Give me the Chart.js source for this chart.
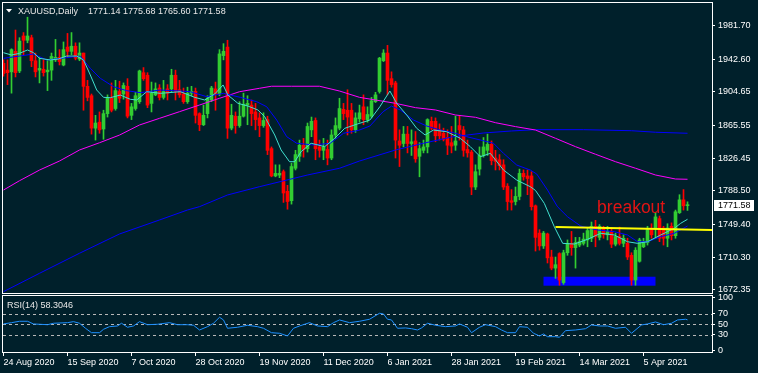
<!DOCTYPE html>
<html>
<head>
<meta charset="utf-8">
<script src="https://cdn.jsdelivr.net/npm/chart.js@4.4.0/dist/chart.umd.min.js"></script>
<style>
  html, body { margin: 0; padding: 0; background: #00202b; }
  #wrap { position: relative; width: 758px; height: 373px; background: #00202b; overflow: hidden; }
  canvas { position: absolute; left: 0; }
  #price { top: 0; }
  #rsi { top: 294px; }
</style>
</head>
<body>
<div id="wrap">
  <canvas id="price" width="758" height="294"></canvas>
  <canvas id="rsi" width="758" height="79"></canvas>
</div>
<script>
// XAUUSD daily bars, one per trading day starting 24 Aug 2020
const open = [1938,1930,1928,1952,1929,1970,1965,1968,1941,1930,
  1931,1928,1930,1942,1945,1936,1957,1952,1958,1943,
  1950,1911,1900,1862,1869,1861,1879,1897,1885,1905,
  1902,1911,1877,1885,1893,1927,1924,1891,1901,1909,
  1898,1908,1908,1924,1907,1902,1893,1903,1905,1879,
  1866,1879,1895,1908,1902,1947,1957,1862,1876,1865,
  1876,1889,1889,1881,1874,1865,1872,1838,1806,1807,
  1811,1788,1777,1815,1829,1842,1838,1860,1871,1840,
  1836,1837,1827,1854,1862,1884,1883,1883,1860,1873,
  1887,1872,1876,1893,1905,1941,1950,1920,1915,1847,
  1844,1855,1844,1847,1829,1836,1840,1870,1870,1860,
  1856,1851,1845,1842,1865,1860,1837,1834,1793,1814,
  1830,1836,1843,1827,1825,1819,1794,1777,1776,1782,
  1809,1806,1806,1771,1739,1724,1738,1711,1698,1715,
  1681,1716,1727,1722,1725,1727,1731,1733,1747,1734,
  1745,1737,1741,1726,1735,1727,1727,1713,1684,1706,
  1723,1728,1743,1745,1756,1745,1733,1747,1736,1763,
  1778,1771.14];
const high = [1942,1942,1955,1977,1968,1974,1992,1971,1950,1945,
  1942,1942,1950,1966,1954,1963,1973,1974,1962,1962,
  1950,1918,1902,1877,1881,1883,1901,1915,1918,1917,
  1915,1920,1891,1904,1930,1933,1927,1916,1915,1913,
  1918,1913,1931,1930,1918,1909,1910,1911,1909,1880,
  1889,1900,1911,1916,1954,1961,1965,1890,1881,1893,
  1903,1900,1895,1891,1880,1880,1876,1840,1819,1819,
  1813,1795,1821,1836,1848,1850,1868,1875,1874,1848,
  1850,1848,1860,1874,1897,1891,1907,1891,1880,1889,
  1901,1887,1898,1904,1945,1954,1959,1928,1917,1860,
  1864,1864,1860,1858,1845,1848,1873,1875,1874,1867,
  1862,1860,1864,1876,1877,1864,1848,1836,1819,1840,
  1851,1855,1847,1836,1831,1825,1797,1790,1793,1814,
  1813,1813,1811,1772,1743,1741,1739,1719,1711,1716,
  1719,1731,1741,1734,1734,1739,1745,1752,1754,1749,
  1747,1747,1745,1739,1746,1737,1733,1716,1722,1733,
  1733,1747,1750,1763,1759,1747,1750,1751,1766,1784,
  1790,1775.68];
const low = [1923,1913,1903,1922,1927,1948,1962,1934,1922,1915,
  1923,1906,1918,1940,1936,1935,1945,1948,1942,1941,
  1883,1894,1855,1848,1856,1849,1875,1881,1883,1892,
  1896,1874,1872,1883,1891,1918,1886,1881,1900,1895,
  1896,1895,1904,1895,1898,1891,1891,1900,1868,1859,
  1865,1874,1893,1883,1900,1942,1850,1860,1856,1863,
  1875,1866,1865,1860,1852,1863,1831,1805,1805,1804,
  1775,1767,1773,1813,1823,1828,1834,1852,1825,1828,
  1825,1819,1825,1850,1860,1872,1854,1856,1857,1869,
  1866,1869,1874,1892,1903,1940,1901,1910,1827,1817,
  1840,1833,1830,1822,1805,1833,1833,1860,1846,1848,
  1847,1831,1833,1836,1848,1829,1828,1784,1790,1807,
  1828,1830,1819,1813,1813,1790,1766,1766,1772,1778,
  1801,1784,1766,1718,1719,1721,1704,1696,1686,1678,
  1679,1713,1713,1698,1723,1725,1723,1729,1723,1731,
  1733,1731,1722,1724,1725,1723,1708,1678,1678,1705,
  1722,1725,1733,1733,1729,1725,1723,1731,1733,1762,
  1766,1765.60];
const close = [1926,1927,1954,1927,1964,1965,1970,1941,1928,1932,
  1927,1930,1946,1945,1940,1954,1952,1958,1944,1950,
  1911,1898,1862,1868,1860,1879,1897,1883,1906,1897,
  1912,1876,1887,1900,1929,1920,1889,1903,1908,1898,
  1905,1903,1924,1905,1901,1893,1903,1905,1877,1866,
  1877,1897,1909,1902,1949,1952,1862,1877,1865,1876,
  1890,1891,1879,1872,1865,1871,1836,1806,1809,1809,
  1786,1776,1817,1831,1842,1837,1864,1870,1838,1836,
  1840,1827,1854,1865,1885,1879,1875,1860,1874,1880,
  1872,1878,1894,1901,1944,1950,1918,1913,1848,1842,
  1855,1844,1846,1826,1838,1840,1872,1862,1853,1853,
  1849,1842,1841,1847,1860,1836,1833,1793,1811,1830,
  1840,1843,1824,1823,1818,1793,1776,1775,1782,1809,
  1805,1803,1770,1734,1724,1739,1710,1698,1702,1684,
  1716,1727,1722,1728,1729,1732,1742,1747,1735,1747,
  1737,1741,1726,1735,1727,1733,1711,1684,1719,1731,
  1729,1743,1737,1758,1733,1733,1745,1736,1764,1778,
  1771,1771.58];

// moving averages, read at the listed bar positions
const maFastBars = [0,2,4,6,7.5,9,11.7,13.7,15.8,18.3,20,21.7,23.3,25,26.7,29.2,31.7,33.3,35.8,39.2,44.2,47.8,50.3,52.8,54.9,56.1,58.6,61.1,63.6,65.3,67.8,69.4,71.5,72.8,74.4,76.9,80.3,82.8,85.3,88.5,91.6,94.1,96.6,98.3,100.8,103.3,105.4,107.5,110.8,114.2,116.7,119.2,121.7,125,128.3,131.7,133,135.2,137.7,139.8,142.7,146,149.3,152.7,156,158.5,161,164.3,167.7,169.3,171];
const maFast = [1950.4,1947.7,1949.7,1953.6,1950.4,1943.8,1941.9,1943,1946.5,1946.5,1941.9,1924.3,1906.7,1898.1,1897.7,1900.8,1895.8,1895,1904.7,1902.8,1904.7,1898.1,1895,1902,1912.6,1900.8,1891.1,1887.9,1883.3,1875.4,1854,1836.4,1822.7,1822.7,1834.4,1844.3,1840.3,1850.1,1861.8,1866.9,1871.5,1887.2,1905.5,1891.1,1877.4,1861.8,1854,1859.8,1857.8,1850.1,1840.3,1828.5,1832.5,1812.9,1801.2,1793.4,1789,1773.9,1746.5,1727,1726.2,1731.7,1738.8,1736.8,1728.9,1727,1728.9,1736.8,1744.6,1750.5,1755.2];
const maMidBars = [0,4,7.5,10.8,15.8,19.2,21.7,24.2,27.5,30.8,34.2,39.2,44.2,46.7,50.8,55,59.2,63.3,65.8,68.3,70.8,73.3,77.5,81.7,85,88.7,91.6,94.9,97,99.2,102.5,105.8,109.2,112.5,115.8,119.2,122.5,125,128.3,131.7,133.3,136,138.5,141,144.3,148.5,152.7,156,158.5,161,164.3,167.7,171];
const maMid = [1943.8,1946.5,1948.9,1941.9,1944.6,1946.5,1932.1,1920.4,1910.6,1905.9,1903.6,1906.7,1905.5,1904.7,1898.9,1902.8,1898.1,1893,1887.1,1871.5,1852,1844.3,1842.3,1844.3,1856,1859.3,1864.5,1881.3,1887.9,1883.3,1871.5,1864.5,1859.8,1856.7,1852,1848.1,1844.3,1832.5,1818.8,1812.9,1808.3,1789.5,1769.9,1758.2,1747.3,1742.6,1740.7,1736.8,1728.9,1728.9,1734.8,1738.8,1747.3];
const maSlowBars = [0,4,9,14,19,24,29,34,39,44,49,54,59,64,67,72,79,84,89,93,98,103,108,113,118,123,128,133,138,143,148,153,158,163,168,171];
const maSlow = [1789.5,1800.4,1812.9,1823.5,1836.4,1844.9,1853.9,1865.7,1873.5,1881.3,1889.1,1897,1904.7,1908.7,1911.1,1911.1,1911.1,1905.5,1898.1,1895,1891.1,1886,1883.3,1877.4,1874.7,1868.4,1863.8,1859.8,1850.1,1840.3,1831.4,1822.7,1815,1807.1,1802.4,1802.1];
const maLongBars = [0,9,19,29,39,46,49,56,64,76,84,89,98,105,112,120,127,133,145,157,163,171];
const maLong = [1670.4,1691.9,1715.4,1738,1754.4,1766.1,1770,1783.7,1793.4,1807.1,1815,1823.5,1836.4,1844.3,1851.6,1856.3,1858.7,1860.2,1860.2,1859,1857.2,1856];

// RSI(14)
const rsiBars = [0,2,4,6,7.5,11,12.5,16,17.5,19,20.5,22,24,25,26.5,28.5,29.5,31,32.5,34,36,38.5,41.5,43.5,46,47.5,49,51,52.5,54,55,56,58.5,61,63.5,65,67,69,71,72.5,74,76.5,78.5,81,82.5,84,86.5,89,91.5,94,95,96,97,98.5,100.5,102,103.5,104.5,106,108,110.5,113,114,116,117,119,120.5,123,124.5,126,128,129,131,132.5,134,135,136,138,139,140.5,143,145.5,147,149,151,153,155.5,157,159.5,161,163,165,167,168.5,170.5,171];
const rsi = [50.6,53,55.6,55.6,50.6,49.2,51.9,53,54.9,51.9,42.5,34.2,34.2,40.6,45.5,46.8,51.9,44.4,46.8,54.9,49.2,50,53,49.2,49.2,48.1,39.3,45.5,51.9,63.1,58.1,42.5,44.4,48.1,45.5,42.5,34.2,33.1,28.1,42.5,46.8,53,46.8,45.5,53,58.1,53,55.6,59.4,70.6,69.3,59.4,58.1,42.5,43.1,41.7,39.3,43.1,51.9,48.1,45.5,46.8,50.6,44.4,34.2,44.4,49.2,45.5,39.3,34.2,34.2,45.5,44.4,33.1,28.1,31.8,26.7,26.7,25.6,38,39.3,41.7,48.7,46.8,46.8,42.5,44.4,33.1,48.7,50.6,54.3,49.2,51.9,58.1,59.4,58.3];
const rsiLevels = [70, 50, 30];
const rsiTicks = [100, 70, 50, 30, 0];

const priceTicks = [1981.70, 1942.60, 1904.65, 1865.55, 1826.45, 1788.50, 1749.40, 1710.30, 1672.35];
const dateLabels = ['24 Aug 2020','15 Sep 2020','7 Oct 2020','28 Oct 2020','19 Nov 2020','11 Dec 2020','6 Jan 2021','28 Jan 2021','19 Feb 2021','14 Mar 2021','5 Apr 2021'];
const BARS_PER_LABEL = 16;

// chart objects drawn by hand on the chart
const supportBox = { from: 135, to: 163, top: 1687.9, bottom: 1677.4 };
const trendLine = { bar1: 138, price1: 1746.2, bar2: 171, price2: 1743.1 };
const breakoutNote = { bar: 148.4, price: 1762.6, text: 'breakout' };
const symbolTitle = 'XAUUSD,Daily';
const ohlcText = '1771.14 1775.68 1765.60 1771.58';
const rsiTitle = 'RSI(14) 58.3046';

const BG = '#00202b';
const UP = '#32cd32';
const DOWN = '#ff0000';
const X_MIN = -0.125, X_MAX = 177.125;
const FONT = "'Liberation Sans', Arial, sans-serif";

Chart.defaults.font.family = FONT;
Chart.defaults.font.size = 9;
Chart.defaults.color = '#ffffff';
Chart.defaults.animation = false;

const idx = close.map((_, i) => i);
const colors = idx.map(i => close[i] >= open[i] ? UP : DOWN);
const pts = (xs, ys) => xs.map((x, i) => ({ x, y: ys[i] }));

// keep the axes from stealing room for half-labels at the ends
const noPad = s => { s.paddingTop = 0; s.paddingBottom = 0; s.paddingLeft = 0; s.paddingRight = 0; };

function maLine(xs, ys, color) {
  return { type: 'line', data: pts(xs, ys), borderColor: color, borderWidth: 1,
    pointRadius: 0, fill: false, tension: 0, order: 1 };
}

const frame = {
  id: 'frame',
  beforeDraw(c) {
    const ctx = c.ctx;
    ctx.save();
    ctx.fillStyle = BG;
    ctx.fillRect(0, 0, c.width, c.height);
    ctx.restore();
  },
  afterDraw(c) {
    const a = c.chartArea, ctx = c.ctx;
    ctx.save();
    ctx.strokeStyle = '#ffffff';
    ctx.lineWidth = 1;
    ctx.strokeRect(a.left - 0.5, a.top - 0.5, a.right - a.left + 1, a.bottom - a.top + 1);
    ctx.restore();
  }
};

const priceExtras = {
  id: 'priceExtras',
  beforeDatasetsDraw(c) {
    const x = c.scales.x, y = c.scales.y, ctx = c.ctx;
    ctx.save();
    ctx.fillStyle = '#0000ff';
    const x1 = x.getPixelForValue(supportBox.from), x2 = x.getPixelForValue(supportBox.to);
    const y1 = y.getPixelForValue(supportBox.top), y2 = y.getPixelForValue(supportBox.bottom);
    ctx.fillRect(x1, y1, x2 - x1, y2 - y1);
    ctx.restore();
  },
  afterDatasetsDraw(c) {
    const x = c.scales.x, y = c.scales.y, ctx = c.ctx, a = c.chartArea;
    ctx.save();
    ctx.beginPath();
    ctx.rect(a.left, a.top, a.right - a.left, a.bottom - a.top);
    ctx.clip();
    // trend line, extended to the right edge
    const slope = (trendLine.price2 - trendLine.price1) / (trendLine.bar2 - trendLine.bar1);
    ctx.strokeStyle = '#ffff00';
    ctx.lineWidth = 2;
    ctx.beginPath();
    ctx.moveTo(x.getPixelForValue(trendLine.bar1), y.getPixelForValue(trendLine.price1));
    ctx.lineTo(x.getPixelForValue(X_MAX), y.getPixelForValue(trendLine.price1 + slope * (X_MAX - trendLine.bar1)));
    ctx.stroke();
    // note
    ctx.fillStyle = '#e01414';
    ctx.font = '17.5px ' + FONT;
    ctx.textBaseline = 'alphabetic';
    ctx.fillText(breakoutNote.text, x.getPixelForValue(breakoutNote.bar), y.getPixelForValue(breakoutNote.price));
    ctx.restore();
  },
  afterDraw(c) {
    const y = c.scales.y, ctx = c.ctx;
    ctx.save();
    // title
    ctx.fillStyle = '#ffffff';
    ctx.beginPath();
    ctx.moveTo(6, 9); ctx.lineTo(12, 9); ctx.lineTo(9, 12.5); ctx.closePath();
    ctx.fill();
    ctx.font = '9px ' + FONT;
    ctx.fillStyle = '#e8e8e8';
    ctx.textBaseline = 'alphabetic';
    ctx.fillText(symbolTitle, 18, 14);
    ctx.fillText(ohlcText, 88, 14);
    // last price tag
    const last = close[close.length - 1];
    const py = y.getPixelForValue(last);
    ctx.fillStyle = '#ffffff';
    ctx.fillRect(714, Math.round(py) - 5, 40, 11);
    ctx.fillStyle = '#000000';
    ctx.textBaseline = 'middle';
    ctx.fillText(last.toFixed(2), 718, Math.round(py) + 0.5);
    ctx.restore();
  }
};

new Chart(document.getElementById('price'), {
  type: 'bar',
  data: {
    datasets: [
      maLine(maFastBars, maFast, '#40e0d0'),
      maLine(maMidBars, maMid, '#0000ff'),
      maLine(maSlowBars, maSlow, '#ff00ff'),
      maLine(maLongBars, maLong, '#0000ff'),
      { type: 'bar', data: idx.map(i => ({ x: i, y: [open[i], close[i]] })),
        backgroundColor: colors, barThickness: 3, grouped: false, minBarLength: 1, order: 2 },
      { type: 'bar', data: idx.map(i => ({ x: i, y: [low[i], high[i]] })),
        backgroundColor: colors, barThickness: 1, grouped: false, order: 3 }
    ]
  },
  options: {
    responsive: false,
    devicePixelRatio: 1,
    events: [],
    layout: { padding: { left: 3, top: 3, right: 0, bottom: 1 } },
    plugins: { legend: { display: false }, tooltip: { enabled: false } },
    scales: {
      x: { type: 'linear', min: X_MIN, max: X_MAX, display: false, offset: false, grid: { offset: false } },
      y: {
        position: 'right', min: 1668.83, max: 2008.65, beginAtZero: false,
        afterBuildTicks: s => { s.ticks = priceTicks.map(v => ({ value: v })); },
        afterFit: s => { s.width = 46; noPad(s); },
        grid: { drawOnChartArea: false, tickLength: 3, color: '#ffffff' },
        border: { display: false },
        ticks: { padding: 3, color: '#ffffff', font: { size: 9 }, callback: v => v.toFixed(2) }
      }
    }
  },
  plugins: [frame, priceExtras]
});

const rsiExtras = {
  id: 'rsiExtras',
  beforeDatasetsDraw(c) {
    const y = c.scales.y, a = c.chartArea, ctx = c.ctx;
    ctx.save();
    ctx.strokeStyle = '#b8b8b8';
    ctx.lineWidth = 1;
    ctx.setLineDash([3, 3]);
    rsiLevels.forEach(v => {
      const py = Math.round(y.getPixelForValue(v)) + 0.5;
      ctx.beginPath();
      ctx.moveTo(a.left, py);
      ctx.lineTo(a.right, py);
      ctx.stroke();
    });
    ctx.restore();
  },
  afterDraw(c) {
    const ctx = c.ctx;
    ctx.save();
    ctx.font = '9px ' + FONT;
    ctx.fillStyle = '#e8e8e8';
    ctx.textBaseline = 'alphabetic';
    ctx.fillText(rsiTitle, 7, 14);
    ctx.restore();
  }
};

new Chart(document.getElementById('rsi'), {
  type: 'line',
  data: {
    datasets: [{ data: pts(rsiBars, rsi), borderColor: '#1e90ff', borderWidth: 1,
      pointRadius: 0, fill: false, tension: 0 }]
  },
  options: {
    responsive: false,
    devicePixelRatio: 1,
    events: [],
    layout: { padding: { left: 3, top: 2, right: 0, bottom: 0 } },
    plugins: { legend: { display: false }, tooltip: { enabled: false } },
    scales: {
      x: {
        type: 'linear', min: X_MIN, max: X_MAX,
        afterBuildTicks: s => { s.ticks = dateLabels.map((_, i) => ({ value: i * BARS_PER_LABEL })); },
        afterFit: s => { s.height = 21; noPad(s); },
        grid: { drawOnChartArea: false, tickLength: 4, color: '#ffffff' },
        border: { display: false },
        ticks: { align: 'start', padding: 1, maxRotation: 0, autoSkip: false, color: '#ffffff',
          callback: (v, i) => dateLabels[i] }
      },
      y: {
        position: 'right', min: -2, max: 103,
        afterBuildTicks: s => { s.ticks = rsiTicks.map(v => ({ value: v })); },
        afterFit: s => { s.width = 46; noPad(s); },
        grid: { drawOnChartArea: false, tickLength: 3, color: '#ffffff' },
        border: { display: false },
        ticks: { padding: 3, color: '#ffffff', callback: v => String(v) }
      }
    }
  },
  plugins: [frame, rsiExtras]
});
</script>
</body>
</html>
